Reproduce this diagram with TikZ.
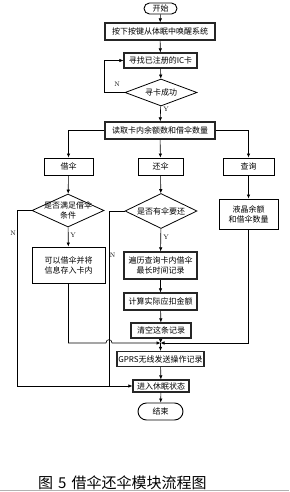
\documentclass[tikz,border=0pt]{standalone}
\usepackage{fontspec}
\newfontfamily\cjk{Noto Sans CJK SC}
\usetikzlibrary{shapes.geometric,shapes.misc,arrows.meta}
\begin{document}
\begin{tikzpicture}[x=1pt,y=-1pt,
  box/.style={draw, line width=0.9pt, inner sep=0pt, font=\cjk\fontsize{8}{10}\selectfont, align=center},
  mbox/.style={box, line width=1.2pt, draw=black!85},
  dia/.style={draw, diamond, inner sep=0pt, line width=0.8pt},
  dtext/.style={font=\cjk\fontsize{8}{10}\selectfont, align=center, inner sep=0pt},
  term/.style={draw, rounded rectangle, line width=0.9pt, inner sep=0pt, font=\cjk\fontsize{8}{10}\selectfont},
  arr/.style={-{Latex[length=4pt,width=3.5pt]}, line width=0.6pt},
  ln/.style={line width=0.6pt},
  yn/.style={font=\fontsize{6.5}{7}\selectfont, inner sep=0pt}
]
\useasboundingbox[fill=white] (0,0) rectangle (289,492);

\node[term, minimum width=33pt, minimum height=11pt] (start) at (160.5,8.5) {开始};
\node[mbox, minimum width=110pt, minimum height=17pt] (b1) at (160,31.5) {按下按键从体眠中唤醒系统};
\node[mbox, minimum width=73pt, minimum height=15pt] (b2) at (160.5,60.5) {寻找已注册的IC卡};
\node[dia, minimum width=72pt, minimum height=27pt, label={[dtext]center:寻卡成功}] (d1) at (161,92.5) {};
\node[mbox, minimum width=110pt, minimum height=17pt] (b3) at (160,130.5) {读取卡内余额数和借伞数量};

\node[box, minimum width=49pt, minimum height=17pt] (jie) at (68.5,166.5) {借伞};
\node[box, minimum width=45pt, minimum height=17pt] (huan) at (160.5,166.5) {还伞};
\node[box, minimum width=51pt, minimum height=17pt] (cha) at (248.5,166.5) {查询};

\node[dia, minimum width=72pt, minimum height=33pt, label={[dtext]center:{是否满足借伞\\条件}}] (d2) at (68,210.5) {};
\node[dia, minimum width=72pt, minimum height=35pt, label={[dtext]center:是否有伞要还}] (d3) at (161,211) {};
\node[box, minimum width=59pt, minimum height=30pt] (lcd) at (248.5,214) {液晶余额\\和借伞数量};

\node[box, minimum width=73pt, minimum height=36pt] (b4) at (68.5,265) {可以借伞并将\\信息存入卡内};
\node[mbox, minimum width=73pt, minimum height=27pt] (b5) at (160.5,265.5) {遍历查询卡内借伞\\最长时间记录};
\node[mbox, minimum width=73pt, minimum height=17pt] (b6) at (160.5,301.5) {计算实际应扣金额};
\node[mbox, minimum width=60pt, minimum height=15pt] (b7) at (161,330.5) {清空这条记录};
\coordinate (jn) at (160.5,343);
\node[mbox, minimum width=87pt, minimum height=15pt] (gprs) at (160.5,359) {GPRS无线发送操作记录};
\node[mbox, minimum width=56pt, minimum height=12pt] (sleep) at (161,386) {进入休眠状态};
\node[term, minimum width=45pt, minimum height=17pt] (end) at (160.5,411.5) {结束};

% main flow
\draw[arr] (start) -- (b1);
\draw[arr] (b1) -- (b2);
\draw[arr] (b2) -- (d1);
\draw[arr] (d1) -- (b3);
\node[yn] (y1) at (166,109.5) {Y};
\coordinate (c1) at (104,92.5);
\draw[arr] (d1.west) -- (c1) |- (b2.west);
\node[yn] (n1) at (117,84) {N};

\draw[arr] (b3.west) -| (jie.north);
\draw[arr] (b3) -- (huan);
\draw[arr] (b3.east) -| (cha.north);

\draw[arr] (jie) -- (d2);
\draw[arr] (huan) -- (d3);
\draw[arr] (cha) -- (lcd);

\draw[arr] (d2) -- (b4);
\node[yn] (y2) at (73,235) {Y};
\draw[arr] (d3) -- (b5);
\node[yn] (y3) at (166,237) {Y};

\draw[arr] (b5) -- (b6);
\draw[arr] (b6) -- (b7);
\draw[arr] (b7) -- (jn);

\coordinate (hA) at (106,343);
\coordinate (hB) at (112,343);
\draw[arr] (b4.south) |- (hA) .. controls (106,338.5) and (112,338.5) .. (hB) -- (jn);
\draw[arr] (lcd.south) |- (jn);
\draw[arr] (jn) -- (gprs);

\coordinate (c2) at (17,210.5);
\draw[arr] (d2.west) -- (c2) -- (c2 |- sleep.west) -- (sleep.west);
\node[yn] (n2) at (13,233) {N};
\coordinate (c3) at (109,211);
\draw[ln] (d3.west) -- (c3) -- (c3 |- sleep.west);
\node[yn] (n3) at (112.5,255) {N};

\draw[arr] (gprs) -- (sleep);
\draw[arr] (sleep) -- (end);

\node[font=\cjk\fontsize{15}{17}\selectfont, anchor=west, inner sep=0pt] (cap) at (38,483) {图\hspace{5pt}5\hspace{5pt}借伞还伞模块流程图};
\draw[black!30, line width=1pt] (0,490.5) -- (289,490.5);
\end{tikzpicture}
\end{document}
